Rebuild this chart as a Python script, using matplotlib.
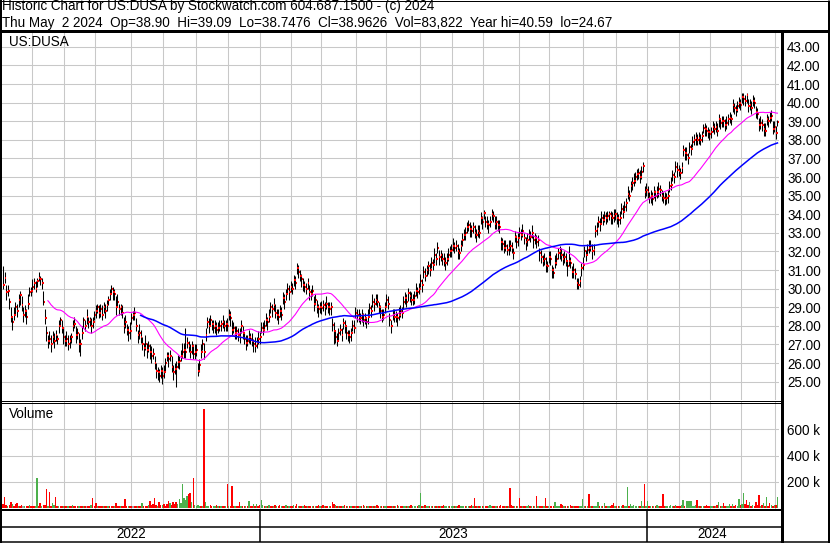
import numpy as np
import pandas as pd
import matplotlib
matplotlib.use("Agg")
import matplotlib.pyplot as plt
from matplotlib.ticker import FuncFormatter

plt.rcParams['font.family'] = ['Liberation Sans', 'DejaVu Sans']

# NYSE holidays in the charted period
holidays = ['2022-05-30', '2022-06-20', '2022-07-04', '2022-09-05', '2022-11-24',
            '2022-12-26', '2023-01-02', '2023-01-16', '2023-02-20', '2023-04-07',
            '2023-05-29', '2023-06-19', '2023-07-04', '2023-09-04', '2023-11-23',
            '2023-12-25', '2024-01-01', '2024-01-15', '2024-02-19', '2024-03-29']

# daily closes
closes = [
    30.2, 30.6, 29.8, 29.9, 29.3, 28.5, 28.2, 28.6, 29.0, 28.8,
    29.4, 29.65, 29.1, 28.6, 28.8, 28.5, 29.2, 29.8, 29.9, 30.1,
    30.3, 30.0, 30.4, 30.6, 30.5, 30.3, 29.3, 28.4, 27.6, 27.2,
    27.3, 27.0, 27.4, 27.2, 27.5, 27.3, 28.0, 28.3, 27.9, 27.4,
    27.2, 27.3, 27.0, 27.2, 27.4, 28.0, 28.1, 27.5, 27.6, 27.0,
    27.0, 27.6, 28.3, 28.0, 28.5, 28.2, 28.3, 28.0, 28.2, 28.6,
    28.8, 29.0, 28.7, 28.9, 28.6, 29.0, 28.8, 29.1, 29.4, 29.7,
    30.0, 29.8, 29.7, 29.0, 29.3, 28.9, 29.0, 28.7, 28.0, 28.2,
    27.8, 27.6, 27.7, 28.4, 28.6, 28.7, 28.0, 27.5, 27.6, 27.4,
    27.0, 26.8, 27.0, 26.7, 26.9, 26.6, 26.4, 26.5, 26.0, 25.6,
    25.5, 25.3, 25.6, 25.3, 25.5, 26.0, 26.4, 26.2, 26.4, 25.8,
    25.5, 25.7, 25.8, 26.05, 26.1, 26.4, 26.6, 26.7, 26.6, 27.1,
    26.9, 26.6, 26.9, 26.5, 26.6, 26.7, 25.6, 25.9, 26.6, 27.0,
    26.6, 27.5, 28.2, 28.0, 28.3, 28.1, 27.9, 28.0, 27.8, 27.9,
    28.0, 28.1, 28.2, 28.0, 28.1, 28.0, 28.6, 28.4, 27.8, 27.9,
    27.6, 27.7, 27.5, 27.4, 28.0, 27.6, 27.3, 27.1, 27.2, 27.4,
    27.3, 27.2, 27.0, 26.9, 27.1, 27.3, 27.4, 27.9, 27.8, 28.0,
    28.3, 28.2, 28.5, 29.0, 28.9, 29.1, 28.7, 28.6, 28.5, 28.8,
    28.6, 29.5, 29.3, 29.7, 30.0, 29.8, 30.1, 30.0, 30.45, 30.3,
    31.1, 30.9, 30.7, 30.5, 30.2, 30.1, 30.0, 30.3, 29.8, 29.7,
    29.9, 29.2, 29.4, 29.0, 28.9, 29.0, 28.95, 29.1, 29.0, 29.2,
    29.0, 28.9, 29.0, 28.05, 27.7, 27.4, 27.2, 27.6, 27.8, 27.5,
    28.15, 28.0, 27.6, 27.5, 27.4, 27.6, 28.0, 27.9, 28.7, 28.6,
    28.5, 28.4, 28.6, 28.3, 28.4, 28.2, 28.5, 28.95, 28.8, 29.3,
    29.2, 29.4, 29.3, 29.0, 28.8, 28.5, 28.6, 29.0, 29.4, 29.2,
    28.3, 28.0, 28.6, 28.5, 28.5, 28.4, 28.6, 28.8, 28.7, 29.3,
    29.5, 29.3, 29.75, 29.6, 29.4, 29.4, 29.6, 29.9, 29.8, 30.0,
    30.4, 30.2, 30.9, 30.7, 31.0, 31.2, 31.0, 31.4, 31.3, 31.8,
    31.6, 32.2, 31.7, 31.8, 31.6, 31.5, 31.4, 31.6, 31.8, 32.0,
    32.1, 32.3, 32.2, 32.3, 32.0, 31.9, 32.3, 32.6, 32.9, 33.0,
    33.3, 33.4, 33.2, 33.1, 33.3, 33.0, 32.9, 33.1, 33.0, 33.8,
    33.6, 34.05, 33.6, 33.5, 33.4, 33.6, 34.0, 33.9, 33.5, 33.6,
    33.4, 33.3, 32.5, 32.4, 32.2, 32.3, 32.1, 32.2, 32.3, 32.2,
    31.9, 32.8, 32.5, 32.7, 33.0, 32.9, 33.1, 32.7, 32.5, 32.6,
    32.9, 32.8, 33.0, 32.6, 32.7, 32.5, 32.6, 31.9, 31.7, 31.5,
    31.6, 31.3, 31.2, 31.7, 31.6, 31.0, 30.85, 31.4, 31.6, 31.9,
    32.0, 31.8, 31.6, 31.7, 31.5, 31.2, 31.5, 31.4, 30.9, 31.0,
    30.8, 30.3, 30.2, 30.4, 31.1, 31.3, 32.0, 31.8, 32.1, 32.2,
    32.3, 32.0, 32.1, 33.1, 33.2, 33.6, 33.5, 33.8, 33.7, 33.9,
    33.8, 33.9, 34.0, 33.9, 33.8, 33.9, 34.0, 33.8, 33.7, 33.8,
    34.3, 34.1, 34.4, 34.6, 35.1, 35.0, 35.5, 35.7, 35.8, 36.0,
    36.15, 36.2, 36.0, 36.3, 36.6, 35.2, 35.3, 35.2, 34.9, 35.0,
    34.8, 35.2, 35.0, 35.2, 35.35, 35.3, 35.0, 34.9, 34.8, 34.85,
    35.0, 35.5, 35.6, 36.1, 36.0, 36.55, 36.4, 36.35, 36.2, 36.5,
    37.45, 37.3, 37.2, 37.0, 37.6, 37.5, 37.9, 38.0, 38.1, 38.0,
    38.1, 38.0, 38.2, 38.65, 38.6, 38.5, 38.4, 38.3, 38.4, 38.7,
    38.6, 38.7, 38.5, 39.1, 38.9, 39.0, 39.0, 38.8, 38.9, 39.1,
    39.2, 39.1, 39.9, 39.7, 39.6, 39.8, 40.0, 39.9, 40.3, 40.2,
    40.1, 40.4, 39.8, 39.9, 39.7, 40.1, 40.0, 39.5, 39.4, 38.8,
    38.9, 38.8, 38.6, 38.5, 39.1, 39.0, 39.2, 39.3, 38.6, 38.7,
    38.35, 38.96,
]

# high above close, in dimes
hi_ext = [
    10, 3, 4, 3, 2, 5, 3, 4, 3, 4,  3, 2, 5, 4, 3, 4, 5, 3, 2, 4,
    3, 4, 2, 3, 2, 3, 6, 5, 4, 3,  4, 5, 3, 4, 3, 2, 3, 2, 4, 5,
    3, 4, 5, 3, 2, 3, 4, 5, 3, 6,  3, 4, 2, 3, 4, 3, 2, 4, 3, 2,
    3, 2, 4, 3, 5, 3, 4, 3, 2, 3,  2, 3, 3, 6, 4, 3, 2, 4, 5, 4,
    3, 4, 5, 3, 2, 3, 4, 3, 5, 4,  4, 3, 5, 4, 3, 4, 5, 3, 4, 4,
    3, 4, 3, 5, 4, 3, 2, 4, 3, 6,  4, 3, 3, 4, 3, 3, 5, 4, 13, 3,
    3, 4, 3, 5, 4, 3, 4, 3, 4, 3,  5, 4, 3, 4, 3, 2, 4, 3, 4, 3,
    3, 2, 4, 3, 2, 4, 3, 4, 5, 3,  4, 3, 4, 5, 3, 4, 3, 4, 3, 4,
    3, 4, 3, 5, 3, 4, 3, 3, 4, 3,  4, 3, 4, 3, 3, 4, 5, 3, 4, 3,
    4, 3, 4, 3, 3, 4, 3, 3, 3, 4,  3, 4, 3, 3, 4, 3, 3, 3, 4, 3,
    3, 4, 3, 4, 3, 3, 4, 3, 3, 4,  3, 4, 3, 4, 5, 3, 4, 3, 3, 4,
    3, 3, 4, 3, 4, 3, 3, 4, 3, 3,  4, 3, 3, 4, 3, 3, 4, 3, 3, 4,
    3, 3, 4, 3, 3, 4, 3, 3, 3, 4,  4, 3, 3, 4, 3, 3, 4, 3, 3, 3,
    3, 4, 3, 3, 4, 3, 3, 4, 3, 3,  4, 3, 3, 4, 3, 3, 4, 3, 3, 4,
    3, 3, 4, 3, 3, 4, 3, 3, 4, 3,  3, 4, 3, 3, 4, 3, 3, 4, 3, 3,
    3, 3, 4, 3, 3, 4, 3, 3, 4, 3,  3, 2, 3, 4, 3, 3, 3, 3, 4, 3,
    3, 4, 3, 3, 4, 3, 3, 4, 3, 3,  3, 3, 4, 3, 3, 3, 4, 3, 3, 4,
    3, 3, 4, 3, 3, 4, 3, 3, 4, 3,  3, 4, 3, 3, 4, 3, 3, 4, 3, 3,
    3, 4, 3, 3, 4, 3, 8, 3, 3, 4,  3, 3, 4, 3, 3, 4, 3, 3, 3, 4,
    3, 4, 3, 3, 4, 3, 3, 4, 3, 3,  3, 3, 2, 3, 3, 4, 3, 3, 3, 4,
    3, 4, 3, 3, 4, 3, 3, 3, 4, 3,  3, 3, 4, 3, 2, 3, 4, 3, 3, 3,
    4, 3, 3, 3, 4, 3, 3, 3, 4, 3,  3, 3, 4, 3, 3, 3, 4, 3, 3, 3,
    3, 3, 4, 3, 3, 3, 3, 3, 3, 3,  3, 3, 3, 2, 3, 3, 3, 3, 3, 3,
    3, 3, 4, 3, 3, 3, 3, 3, 4, 3,  3, 3, 3, 3, 3, 3, 3, 3, 2, 3,
    3, 1, 4, 3, 4, 3, 3, 3, 3, 4,  4, 3, 3, 4, 3, 3, 3, 3, 4, 3,
    4, 1,
]

# low below close, in dimes
lo_ext = [
    2, 3, 4, 3, 4, 3, 4, 3, 4, 3,  4, 5, 3, 4, 3, 4, 3, 2, 3, 3,
    3, 2, 3, 2, 3, 3, 2, 3, 4, 4,  3, 4, 3, 4, 3, 3, 4, 3, 3, 4,
    3, 4, 3, 4, 3, 3, 2, 4, 3, 4,  6, 3, 4, 3, 4, 3, 3, 4, 3, 3,
    4, 3, 3, 4, 3, 3, 4, 3, 3, 3,  3, 4, 3, 4, 3, 3, 4, 3, 4, 3,
    3, 4, 4, 3, 3, 4, 3, 4, 3, 3,  3, 4, 3, 4, 3, 4, 4, 3, 3, 4,
    4, 3, 4, 4, 3, 4, 3, 4, 3, 3,  4, 3, 11, 3, 4, 3, 3, 4, 3, 3,
    3, 3, 4, 3, 4, 3, 3, 4, 3, 3,  4, 3, 3, 4, 3, 3, 3, 4, 3, 3,
    3, 4, 3, 3, 4, 3, 3, 4, 3, 3,  3, 4, 3, 3, 4, 3, 3, 4, 3, 3,
    3, 3, 4, 3, 3, 3, 4, 3, 3, 3,  3, 4, 3, 3, 4, 3, 3, 3, 4, 3,
    3, 3, 4, 3, 3, 4, 3, 3, 3, 3,  3, 3, 3, 4, 3, 3, 3, 3, 4, 3,
    3, 4, 3, 3, 4, 3, 3, 3, 4, 3,  3, 3, 4, 3, 7, 3, 3, 4, 3, 3,
    3, 4, 3, 3, 3, 4, 3, 3, 3, 4,  3, 3, 4, 3, 3, 3, 4, 3, 3, 3,
    4, 3, 3, 3, 4, 3, 3, 3, 4, 3,  3, 4, 3, 3, 3, 4, 3, 3, 3, 4,
    3, 3, 4, 3, 3, 3, 4, 3, 3, 3,  3, 4, 3, 3, 3, 4, 3, 3, 3, 4,
    3, 3, 4, 3, 3, 3, 4, 3, 3, 3,  4, 3, 3, 3, 4, 3, 3, 3, 3, 4,
    3, 3, 4, 3, 3, 3, 4, 3, 3, 3,  4, 3, 3, 3, 4, 3, 3, 3, 3, 4,
    3, 3, 4, 3, 3, 3, 3, 4, 3, 3,  3, 3, 3, 4, 3, 3, 3, 3, 4, 3,
    3, 3, 3, 4, 3, 3, 3, 4, 3, 3,  3, 4, 3, 3, 3, 4, 3, 3, 3, 3,
    4, 3, 3, 3, 3, 5, 3, 3, 3, 4,  3, 3, 2, 3, 4, 3, 3, 3, 3, 3,
    3, 4, 3, 3, 3, 3, 4, 3, 3, 3,  3, 3, 3, 4, 3, 3, 3, 3, 4, 3,
    3, 3, 3, 4, 3, 3, 3, 4, 3, 3,  3, 3, 3, 4, 3, 3, 3, 3, 3, 4,
    3, 3, 3, 3, 4, 3, 3, 3, 3, 3,  4, 3, 3, 3, 3, 3, 4, 3, 3, 3,
    3, 4, 3, 3, 3, 3, 3, 3, 4, 3,  3, 3, 3, 3, 4, 3, 3, 3, 3, 3,
    3, 3, 3, 4, 3, 3, 3, 3, 3, 3,  3, 3, 4, 3, 3, 3, 3, 3, 3, 3,
    3, 4, 3, 3, 3, 3, 3, 3, 3, 3,  3, 3, 4, 3, 3, 3, 3, 3, 3, 3,
    3, 2,
]

# daily volume, thousands of shares
volume_k = [
    30, 82, 18, 12, 20, 44, 25, 15, 26, 38,  14, 10, 22, 12, 8, 15, 10, 18, 12, 9,
    14, 10, 226, 15, 38, 12, 20, 18, 141, 15,  123, 12, 38, 22, 82, 15, 10, 12, 8, 14,
    10, 12, 9, 15, 10, 18, 12, 8, 10, 14,  12, 15, 10, 9, 12, 14, 10, 18, 72, 12,
    33, 10, 12, 8, 15, 10, 12, 9, 14, 10,  12, 15, 10, 31, 12, 9, 14, 10, 12, 64,
    15, 12, 10, 14, 9, 12, 15, 10, 12, 14,  38, 12, 15, 10, 22, 51, 18, 30, 72, 20,
    15, 46, 22, 18, 25, 12, 30, 51, 35, 20,  40, 30, 42, 25, 64, 35, 180, 72, 60, 90,
    103, 110, 45, 226, 20, 15, 18, 12, 15, 10,  756, 46, 15, 12, 18, 10, 14, 12, 16, 10,
    12, 15, 10, 14, 12, 180, 15, 12, 164, 10,  12, 15, 14, 46, 10, 12, 15, 10, 12, 51,
    14, 10, 26, 12, 26, 15, 20, 56, 20, 12,  15, 10, 18, 12, 14, 10, 22, 15, 12, 18,
    10, 14, 12, 20, 15, 10, 14, 12, 18, 10,  25, 15, 12, 10, 14, 18, 12, 15, 10, 12,
    14, 10, 15, 12, 18, 10, 14, 20, 12, 10,  15, 12, 10, 40, 25, 18, 14, 12, 15, 10,
    12, 18, 10, 14, 12, 15, 10, 12, 14, 10,  12, 15, 10, 18, 12, 14, 10, 12, 15, 10,
    14, 12, 18, 10, 15, 12, 14, 10, 12, 15,  10, 14, 12, 15, 10, 18, 12, 14, 10, 12,
    15, 10, 14, 12, 18, 10, 15, 12, 14, 20,  115, 15, 12, 18, 14, 10, 12, 15, 10, 14,
    12, 15, 10, 14, 12, 18, 10, 12, 15, 10,  14, 12, 10, 15, 12, 18, 10, 14, 12, 15,
    10, 14, 12, 18, 10, 70, 12, 15, 10, 14,  12, 15, 10, 14, 12, 18, 10, 12, 15, 10,
    14, 12, 18, 10, 15, 12, 14, 10, 150, 20,  15, 12, 14, 10, 75, 12, 15, 10, 14, 12,
    18, 10, 12, 15, 10, 85, 14, 12, 10, 15,  12, 70, 10, 14, 12, 15, 10, 44, 12, 15,
    10, 26, 22, 14, 12, 15, 10, 18, 12, 14,  10, 15, 12, 14, 10, 64, 12, 15, 10, 103,
    12, 14, 10, 15, 12, 46, 14, 10, 12, 31,  15, 10, 14, 12, 18, 36, 12, 15, 10, 14,
    12, 18, 10, 15, 159, 12, 26, 14, 20, 12,  15, 10, 14, 51, 12, 180, 15, 51, 12, 14,
    10, 15, 12, 18, 14, 10, 12, 103, 15, 12,  14, 10, 18, 12, 15, 20, 12, 14, 10, 18,
    56, 15, 51, 50, 48, 51, 14, 12, 18, 56,  12, 15, 10, 14, 12, 18, 10, 15, 12, 14,
    10, 15, 18, 46, 12, 14, 38, 10, 15, 12,  26, 14, 26, 12, 18, 15, 64, 20, 30, 115,
    25, 56, 18, 46, 14, 20, 12, 46, 18, 95,  14, 20, 38, 15, 77, 12, 31, 18, 14, 22,
    16, 84,
]

# volume bar colour: 1 up (green), 0 down (red), 2 unchanged (grey)
vol_dir = [
    0, 0, 0, 1, 0, 0, 1, 0, 0, 0,  1, 0, 0, 2, 1, 0, 0, 1, 0, 0,
    0, 1, 1, 0, 0, 1, 0, 0, 0, 1,  0, 0, 1, 1, 0, 0, 1, 0, 0, 1,
    0, 0, 1, 0, 0, 1, 0, 0, 0, 1,  0, 0, 1, 0, 2, 0, 0, 1, 0, 0,
    0, 1, 0, 0, 0, 1, 0, 0, 1, 0,  0, 0, 1, 0, 0, 0, 1, 0, 0, 0,
    0, 1, 0, 0, 2, 0, 0, 1, 0, 0,  1, 0, 0, 0, 1, 0, 0, 0, 0, 0,
    1, 0, 0, 1, 0, 0, 0, 0, 1, 0,  0, 0, 0, 1, 1, 1, 1, 1, 1, 1,
    0, 0, 1, 0, 1, 1, 1, 1, 0, 1,  0, 1, 1, 1, 0, 0, 1, 1, 0, 1,
    0, 1, 0, 0, 1, 0, 1, 0, 0, 0,  1, 0, 0, 0, 1, 0, 0, 1, 0, 1,
    0, 0, 1, 0, 1, 0, 0, 1, 1, 0,  1, 0, 1, 0, 0, 1, 0, 1, 0, 0,
    1, 0, 0, 1, 0, 1, 0, 0, 1, 0,  0, 1, 0, 0, 1, 0, 0, 1, 0, 0,
    1, 0, 1, 0, 0, 1, 0, 0, 1, 0,  0, 1, 0, 0, 0, 1, 0, 1, 0, 0,
    1, 0, 0, 1, 0, 1, 0, 0, 1, 0,  0, 1, 0, 0, 1, 0, 1, 0, 0, 1,
    0, 1, 0, 0, 1, 0, 0, 1, 1, 0,  0, 0, 1, 0, 1, 0, 1, 0, 0, 1,
    1, 0, 1, 0, 0, 1, 1, 1, 0, 1,  1, 0, 1, 0, 1, 1, 0, 1, 0, 1,
    0, 1, 0, 1, 0, 0, 1, 1, 1, 0,  1, 1, 0, 1, 0, 0, 1, 1, 1, 0,
    1, 1, 0, 0, 1, 0, 0, 1, 0, 1,  0, 1, 0, 0, 1, 1, 1, 0, 0, 1,
    0, 0, 0, 0, 0, 1, 0, 1, 0, 0,  0, 1, 0, 1, 0, 0, 1, 0, 0, 1,
    1, 0, 1, 0, 1, 0, 1, 0, 0, 0,  1, 0, 0, 1, 0, 0, 0, 1, 1, 1,
    1, 0, 0, 1, 0, 0, 1, 0, 0, 1,  0, 0, 0, 1, 1, 1, 1, 0, 1, 0,
    1, 0, 1, 1, 1, 1, 0, 1, 0, 1,  0, 1, 1, 0, 0, 0, 1, 0, 0, 1,
    1, 0, 1, 1, 1, 0, 1, 1, 1, 1,  1, 1, 0, 1, 1, 0, 1, 1, 0, 1,
    0, 1, 0, 1, 1, 0, 0, 0, 0, 1,  1, 1, 1, 1, 0, 1, 0, 0, 0, 1,
    1, 0, 1, 1, 1, 1, 1, 1, 1, 0,  1, 0, 1, 1, 0, 0, 0, 0, 1, 1,
    0, 1, 0, 1, 0, 1, 0, 0, 1, 1,  1, 0, 1, 0, 0, 1, 1, 0, 1, 1,
    0, 0, 0, 1, 0, 1, 0, 0, 0, 0,  1, 0, 1, 0, 1, 0, 0, 1, 0, 1,
    0, 1,
]

header1 = "Historic Chart for US:DUSA by Stockwatch.com 604.687.1500 - (c) 2024"
header2 = ("Thu May  2 2024  Op=38.90  Hi=39.09  Lo=38.7476  Cl=38.9626  "
           "Vol=83,822  Year hi=40.59  lo=24.67")
symbol = "US:DUSA"

dates = pd.bdate_range('2022-05-04', '2024-05-02', freq='C', holidays=holidays)
n = len(dates)
assert n == len(closes) == len(hi_ext) == len(lo_ext) == len(volume_k) == len(vol_dir)

x = np.arange(n)
c = np.array(closes)
highs = c + np.array(hi_ext) / 10
lows = c - np.array(lo_ext) / 10
ma_fast = pd.Series(c).rolling(30).mean()
ma_slow = pd.Series(c).rolling(90).mean()
vol = np.array(volume_k) * 1000
vcol = [{0: '#ff0000', 1: '#4cb04c', 2: '#a0a0a0'}[d] for d in vol_dir]

month_starts = [i for i in range(1, n) if dates[i].month != dates[i - 1].month]
year_starts = [i for i in range(1, n) if dates[i].year != dates[i - 1].year]
years = sorted(set(d.year for d in dates))

W, H = 830, 543
fig = plt.figure(figsize=(W / 100, H / 100), dpi=100)
fig.patch.set_facecolor('white')
GRID = '#c8c8c8'
FS = 9.75
XL = (-0.7, n)


def px_axes(x0, y0, x1, y1):
    return fig.add_axes([x0 / W, 1 - y1 / H, (x1 - x0) / W, (y1 - y0) / H])


def style(ax):
    for s in ax.spines.values():
        s.set_visible(False)
    ax.set_xlim(XL)
    ax.set_xticks([m - 0.5 for m in month_starts])
    ax.tick_params(axis='x', length=0, labelbottom=False)
    ax.yaxis.tick_right()
    ax.tick_params(axis='y', length=0, pad=5.8, labelsize=FS)
    ax.grid(True, color=GRID, lw=0.75)
    ax.set_axisbelow(True)


# price panel
ax = px_axes(2, 32, 779, 400)
style(ax)
ax.set_ylim(24.016, 43.80)
ax.set_yticks(np.arange(25, 44))
ax.yaxis.set_major_formatter(FuncFormatter(lambda v, p: f"{v:.2f}"))
ax.vlines(x, lows, highs, color='black', lw=0.75)
ax.hlines(c, x + 0.2, x + 1.2, color='#ff0000', lw=1.5)
ax.plot(x, ma_fast, color='#ff00ff', lw=0.8)
ax.plot(x, ma_slow, color='#0000ff', lw=1.1)

# volume panel
axv = px_axes(2, 402, 779, 509)
style(axv)
axv.set_ylim(-11500, 811500)
axv.set_yticks([200000, 400000, 600000])
axv.yaxis.set_major_formatter(FuncFormatter(lambda v, p: f"{v / 1000:.0f} k"))
axv.bar(x, vol, width=0.9, color=vcol, linewidth=0)

# date rows
axd = px_axes(2, 510, 779, 542)
axd.set_xlim(XL)
axd.set_ylim(0, 1)
axd.axis('off')
for ys in year_starts:
    axd.axvline(ys - 0.5, color='black', lw=1.1)
bounds = [-0.5] + [ys - 0.5 for ys in year_starts] + [n - 0.5]
for yr, a, b in zip(years, bounds[:-1], bounds[1:]):
    axd.text((a + b) / 2, 0.25, str(yr), ha='center', va='center', fontsize=FS)

# frame, header and labels in pixel coordinates
bg = fig.add_axes([0, 0, 1, 1], zorder=10)
bg.set_xlim(0, W)
bg.set_ylim(H, 0)
bg.axis('off')
bg.patch.set_visible(False)


def seg(x0, y0, x1, y1, w):
    bg.plot([x0, x1], [y0, y1], color='black', lw=w * 0.72, solid_capstyle='butt')


seg(1, 0, 1, H, 2)
seg(0, 0.5, W, 0.5, 1)
seg(828.5, 0, 828.5, H, 3)
seg(0, 541.5, W, 541.5, 1.5)
seg(0, 30.8, W, 30.8, 3)
seg(781.5, 30, 781.5, H, 3)
seg(0, 400.5, 781, 400.5, 1)
seg(0, 402.5, 781, 402.5, 1)
seg(0, 510, 781, 510, 2)
seg(0, 526.5, 781, 526.5, 1.5)

bg.text(2, 10, header1, fontsize=FS, va='baseline', ha='left')
bg.text(2, 26.5, header2, fontsize=FS, va='baseline', ha='left')
bg.text(9, 46.5, symbol, fontsize=FS, va='baseline', ha='left')
bg.text(9, 418, "Volume", fontsize=FS, va='baseline', ha='left')

fig.savefig('out.png', dpi=100)
